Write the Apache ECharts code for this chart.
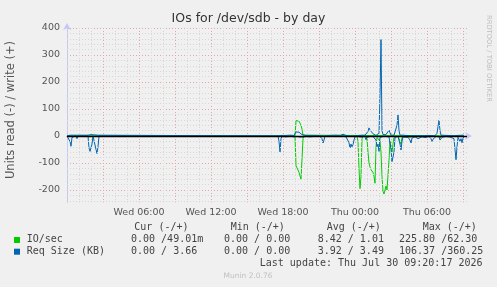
<!DOCTYPE html>
<html><head><meta charset="utf-8">
<script src="https://cdn.jsdelivr.net/npm/echarts@6/dist/echarts.min.js"></script>
<style>html,body{margin:0;padding:0;background:#f0f0f0}#c{width:497px;height:287px}</style>
</head><body><div id="c"></div>
<script>
// time in minutes since Wed 00:00 (5-minute samples)
const ioWrite = [[0,0],[1140,0],[1145,57],[1150,58],[1155,57],[1160,55],[1165,50],[1170,40],[1175,25],[1180,3],[1185,0],[1985,0]];
const ioRead = [[0,0],[1140,0],[1145,-110],[1150,-118],[1155,-125],[1160,-135],[1165,-140],[1170,-160],[1175,-165],[1180,-10],[1185,0],
  [1450,0],[1455,-20],[1460,-120],[1465,-195],[1470,-150],[1475,-10],[1480,0],[1490,0],[1495,-2],[1500,-10],[1505,-60],[1510,-100],
  [1515,-115],[1520,-125],[1525,-130],[1530,-135],[1535,-150],[1540,-175],[1545,-40],[1550,-5],[1555,0],[1560,0],[1565,-20],[1570,-60],
  [1575,-150],[1580,-205],[1585,-215],[1590,-210],[1595,-185],[1600,-200],[1605,-205],[1610,-90],[1615,-20],[1620,-40],[1625,-60],
  [1630,-30],[1635,-5],[1640,0],[1655,0],[1660,-5],[1665,-20],[1670,-30],[1675,-5],[1680,0],[1860,0],[1865,-8],[1870,-3],[1875,0],[1985,0]];
const reqWrite = [[0,0],[10,3],[15,3],[20,2],[25,0],[105,3],[110,5],[115,5],[120,5],[125,5],[130,4],[140,4],[145,4],[150,4],[155,3],[160,0],
  [1055,0],[1060,2],[1065,2],[1070,2],[1075,3],[1095,2],[1115,3],[1135,2],[1140,5],[1145,15],[1150,14],[1155,15],[1160,14],[1165,13],
  [1170,12],[1175,5],[1180,2],[1185,1],[1195,2],[1205,1],[1215,2],[1225,1],[1245,2],[1265,1],[1275,0],[1285,0],[1290,2],[1315,2],
  [1345,3],[1365,2],[1375,4],[1380,6],[1385,3],[1395,2],[1405,1],[1410,0],[1430,0],[1435,1],[1440,2],[1460,2],[1465,1],[1470,2],
  [1475,3],[1480,5],[1490,3],[1495,2],[1500,5],[1505,17],[1510,30],[1515,22],[1520,28],[1525,15],[1530,8],[1535,5],[1540,3],[1545,2],
  [1550,3],[1555,5],[1560,10],[1565,150],[1570,357],[1575,20],[1580,5],[1585,3],[1590,4],[1595,5],[1600,3],[1605,5],[1610,22],
  [1615,12],[1620,3],[1625,2],[1630,2],[1635,3],[1640,5],[1645,10],[1650,40],[1655,78],[1660,20],[1665,3],[1670,2],[1680,3],[1690,2],
  [1715,1],[1725,2],[1755,1],[1765,2],[1790,1],[1810,2],[1820,1],[1840,1],[1845,3],[1850,10],[1855,35],[1860,58],[1865,20],[1870,3],
  [1875,2],[1935,1],[1950,2],[1980,3],[1985,2]];
const reqRead = [[0,0],[10,0],[15,-20],[20,-38],[25,-5],[30,0],[45,0],[50,-10],[55,0],[105,0],[110,-45],[115,-57],[120,-55],[125,-30],
  [130,0],[140,0],[145,-50],[150,-65],[155,-40],[160,0],[1055,0],[1060,-20],[1065,-59],[1070,-10],[1075,-2],[1095,-3],[1115,-1],
  [1135,-3],[1140,-2],[1145,-3],[1150,-2],[1155,-3],[1160,-2],[1165,-4],[1170,-3],[1175,-2],[1180,-4],[1185,-5],[1195,-2],[1205,-6],
  [1215,-3],[1225,-5],[1245,-1],[1265,-2],[1275,-10],[1280,-26],[1285,-15],[1290,-1],[1315,-2],[1345,-1],[1365,-2],[1375,0],[1380,0],
  [1385,-1],[1395,-3],[1405,-10],[1410,-25],[1415,-44],[1420,-30],[1425,-40],[1430,-32],[1435,-15],[1440,-3],[1450,-2],[1455,-2],
  [1460,-3],[1465,-2],[1470,-4],[1475,-2],[1480,-1],[1490,-2],[1495,-14],[1500,-5],[1505,-2],[1510,-3],[1515,-2],[1520,-5],[1525,-3],
  [1530,-2],[1535,-4],[1540,-6],[1545,-15],[1550,-40],[1555,-30],[1560,-57],[1565,-5],[1570,-2],[1575,-3],[1580,-2],[1585,-5],
  [1590,-3],[1595,-2],[1600,-4],[1605,-2],[1610,-3],[1615,-10],[1620,-50],[1625,-95],[1630,-100],[1635,-60],[1640,-5],[1645,-2],
  [1650,-1],[1655,-2],[1660,-5],[1665,-30],[1670,-52],[1675,-20],[1680,-3],[1690,-3],[1705,-5],[1715,-15],[1720,-26],[1725,-8],
  [1740,-3],[1755,-10],[1765,-5],[1775,-3],[1790,-6],[1800,-11],[1810,-2],[1820,-10],[1825,-20],[1830,-12],[1840,-18],[1845,-2],
  [1850,-1],[1855,-1],[1860,-3],[1865,-15],[1870,-22],[1875,-5],[1895,-2],[1915,-4],[1935,-10],[1940,-50],[1945,-88],[1950,-40],
  [1955,-5],[1965,-20],[1970,-10],[1975,-25],[1980,-8],[1985,-3]];

const xTickLabels = {6:'Wed 06:00',12:'Wed 12:00',18:'Wed 18:00',24:'Thu 00:00',30:'Thu 06:00'};
const legendHeader = ['Cur (-/+)','Min (-/+)','Avg (-/+)','Max (-/+)'];
const seriesNames = ['IO/sec','Req Size (KB)'];
const ioStats = ['0.00 /49.01m','0.00 / 0.00','8.42 / 1.01','225.80 /62.30'];
const reqStats = ['0.00 / 3.66','0.00 / 0.00','3.92 / 3.49','106.37 /360.25'];
const lastUpdate = 'Last update: Thu Jul 30 09:20:17 2026';

const GREEN = '#00CC00', BLUE = '#0066B3';
const RED_GRID = '#e2a6a6', GREY_GRID = '#d6d6d6';
const DASH = [1, 2];
const toH = arr => arr.map(p => [p[0] / 60, p[1]]);

const minorY = [];
for (let v = -240; v < 400; v += 20) if (v % 100 !== 0) minorY.push({yAxis: v});

const mono = '10px "DejaVu Sans Mono"';
const txt = (text, x, y, font, fill, align, rot) => ({
  type: 'text', x, y, rotation: rot || 0, silent: true,
  style: {text, font, fill, align: align || 'left', verticalAlign: 'middle', textAlign: align || 'left', textVerticalAlign: 'middle'}
});
const hdrX = [134.3, 230.7, 326.7, 422.7];
const statX = [131, 224, 317.7, 399];
const graphics = [
  txt('IOs for /dev/sdb - by day', 248.5, 19, '12.5px "DejaVu Sans"', '#333', 'center'),
  txt('Units read (-) / write (+)', 11, 110, '11.5px "DejaVu Sans"', '#555', 'center', Math.PI / 2),
  txt('RRDTOOL / TOBI OETIKER', 488.5, 58.5, '6.75px "DejaVu Sans"', '#bdbdbd', 'center', -Math.PI / 2),
  {type: 'rect', shape: {x: 14, y: 237, width: 6, height: 6}, style: {fill: GREEN}},
  {type: 'rect', shape: {x: 14, y: 248.7, width: 6, height: 6}, style: {fill: BLUE}},
  txt(seriesNames[0], 26.7, 239.7, mono, '#444'),
  txt(seriesNames[1], 26.7, 251.7, mono, '#444'),
  txt(lastUpdate, 482.5, 263.7, mono, '#444', 'right'),
  txt('Munin 2.0.76', 248, 276.3, '7.5px "DejaVu Sans"', '#c0c0c0', 'center')
];
legendHeader.forEach((t, i) => graphics.push(txt(t, hdrX[i], 227.3, mono, '#444')));
ioStats.forEach((t, i) => graphics.push(txt(t, statX[i], 239.7, mono, '#444')));
reqStats.forEach((t, i) => graphics.push(txt(t, statX[i], 251.7, mono, '#444')));

const lineSeries = (name, data, color) => ({
  name, type: 'line', data: toH(data), showSymbol: false, symbol: 'none',
  lineStyle: {color, width: 1}, itemStyle: {color}, animation: false, silent: true
});

const chart = echarts.init(document.getElementById('c'), null, {renderer: 'canvas'});
chart.setOption({
  backgroundColor: '#f0f0f0',
  animation: false,
  grid: {left: 67, right: 30, top: 28, bottom: 84.6, containLabel: false},
  xAxis: {
    type: 'value', min: 0, max: 2000 / 60, interval: 1,
    axisLine: {show: true, lineStyle: {color: '#c4c8f2', width: 1}, symbol: ['none', 'arrow'], symbolSize: [6, 7], symbolOffset: [0, 5]},
    axisTick: {show: false},
    axisLabel: {
      fontFamily: 'DejaVu Sans', fontSize: 9.5, color: '#555', margin: 5.5,
      showMinLabel: true, showMaxLabel: false,
      formatter: v => xTickLabels[Math.round(v)] && Math.abs(v - Math.round(v)) < 1e-6 ? xTickLabels[Math.round(v)] : ''
    },
    splitLine: {show: true, showMaxLine: false, lineStyle: {color: [RED_GRID, GREY_GRID, GREY_GRID], type: DASH, width: 1}}
  },
  yAxis: {
    type: 'value', min: -246, max: 400,
    axisLine: {show: true, lineStyle: {color: '#c4c8f2', width: 1}, symbol: ['none', 'arrow'], symbolSize: [6, 7], symbolOffset: [0, 5]},
    axisTick: {show: false},
    axisLabel: {
      fontFamily: 'DejaVu Sans', fontSize: 9.5, color: '#555', margin: 7,
      formatter: v => (Math.abs(v % 100) < 1e-6 ? String(v) : '')
    },
    splitLine: {show: true, showMinLine: false, lineStyle: {color: RED_GRID, type: DASH, width: 1}}
  },
  series: [
    {type: 'line', data: [], silent: true, markLine: {silent: true, symbol: ['none', 'none'], label: {show: false}, animation: false,
      lineStyle: {color: GREY_GRID, type: DASH, width: 1}, data: minorY}},
    lineSeries('IO/sec write', ioWrite, GREEN),
    lineSeries('IO/sec read', ioRead, GREEN),
    lineSeries('Req Size write', reqWrite, BLUE),
    lineSeries('Req Size read', reqRead, BLUE),
    {type: 'line', data: [], silent: true, z: 10, markLine: {silent: true, symbol: ['none', 'none'], label: {show: false}, animation: false,
      lineStyle: {color: '#000', type: 'solid', width: 1.3}, data: [{yAxis: 0}]}}
  ],
  graphic: graphics
});
</script></body></html>
